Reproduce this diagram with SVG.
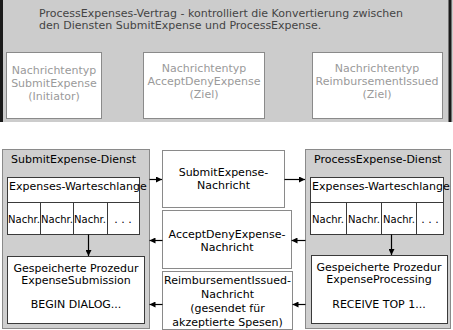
<svg xmlns="http://www.w3.org/2000/svg" width="453" height="330" viewBox="0 0 453 330">
<defs>
<style>
text{font-family:"DejaVu Sans","Liberation Sans",sans-serif;font-size:11px;fill:#000}
.t{fill:#444}
.g{fill:#9a9a9a;text-anchor:middle}
.c{text-anchor:middle}
.sm{font-size:10px}
.wb{fill:#fff;stroke:#8a8a8a;stroke-width:1}
.svc{fill:#cfcfcf;stroke:#8a8a8a;stroke-width:1}
.db{fill:#fff;stroke:#3a3a3a;stroke-width:1}
.ln{stroke:#3a3a3a;stroke-width:1;fill:none}
.ar{stroke:#000;stroke-width:1.2;fill:none;marker-end:url(#ah)}
</style>
<marker id="ah" viewBox="0 0 6 6" refX="6" refY="3" markerWidth="6" markerHeight="6" markerUnits="userSpaceOnUse" orient="auto">
<path d="M0,0 L6,3 L0,6 Z" fill="#000"/>
</marker>
</defs>
<g id="contract">
<rect x="0" y="0" width="453" height="122" fill="#cccccc"/>
<line x1="1.5" y1="0" x2="1.5" y2="122" stroke="#1a1a1a" stroke-width="3"/>
<line x1="450" y1="0" x2="450" y2="122" stroke="#1a1a1a" stroke-width="3"/>
<text class="t" x="39" y="17">ProcessExpenses-Vertrag - kontrolliert die Konvertierung zwischen</text>
<text class="t" x="39" y="29">den Diensten SubmitExpense und ProcessExpense.</text>
</g>
<g id="msgtype-submit">
<rect class="wb" x="6.5" y="52.5" width="95" height="66"/>
<text class="g" x="54" y="74">Nachrichtentyp</text>
<text class="g" x="54" y="87">SubmitExpense</text>
<text class="g" x="54" y="100">(Initiator)</text>
</g>
<g id="msgtype-acceptdeny">
<rect class="wb" x="143.5" y="52.5" width="121" height="66"/>
<text class="g" x="204" y="72">Nachrichtentyp</text>
<text class="g" x="204" y="85">AcceptDenyExpense</text>
<text class="g" x="204" y="98">(Ziel)</text>
</g>
<g id="msgtype-reimb">
<rect class="wb" x="312.5" y="52.5" width="130" height="66"/>
<text class="g" x="377" y="72">Nachrichtentyp</text>
<text class="g" x="377" y="85">ReimbursementIssued</text>
<text class="g" x="377" y="98">(Ziel)</text>
</g>
<g id="submit-service">
<rect class="svc" x="2.5" y="149.5" width="147" height="179"/>
<text x="11" y="163">SubmitExpense-Dienst</text>
<rect class="db" x="7.5" y="177.5" width="132" height="57"/>
<line class="ln" x1="7.5" y1="202.5" x2="139.5" y2="202.5"/>
<line class="ln" x1="40.5" y1="202.5" x2="40.5" y2="234.5"/>
<line class="ln" x1="73.5" y1="202.5" x2="73.5" y2="234.5"/>
<line class="ln" x1="107.5" y1="202.5" x2="107.5" y2="234.5"/>
<text x="9" y="190">Expenses-Warteschlange</text>
<text class="sm c" x="24" y="223">Nachr.</text>
<text class="sm c" x="57" y="223">Nachr.</text>
<text class="sm c" x="90" y="223">Nachr.</text>
<text class="c" x="123" y="223">. . .</text>
<rect class="db" x="7.5" y="256.5" width="137" height="67"/>
<text class="c" x="76" y="272">Gespeicherte Prozedur</text>
<text class="c" x="76" y="284">ExpenseSubmission</text>
<text class="c" x="76" y="308">BEGIN DIALOG...</text>
</g>
<g id="submit-msg">
<rect class="wb" x="162.5" y="150.5" width="122" height="57"/>
<text class="c" x="223.5" y="176">SubmitExpense-</text>
<text class="c" x="223.5" y="189">Nachricht</text>
</g>
<g id="acceptdeny-msg">
<rect class="wb" x="162.5" y="210.5" width="129" height="58"/>
<text class="c" x="227" y="238">AcceptDenyExpense-</text>
<text class="c" x="227" y="251">Nachricht</text>
</g>
<g id="reimb-msg">
<rect class="wb" x="162.5" y="271.5" width="130" height="58"/>
<text class="c" x="227.5" y="284">ReimbursementIssued-</text>
<text class="c" x="227.5" y="298">Nachricht</text>
<text class="c" x="227.5" y="312">(gesendet für</text>
<text class="c" x="227.5" y="326">akzeptierte Spesen)</text>
</g>
<g id="process-service">
<rect class="svc" x="305.5" y="149.5" width="145" height="179"/>
<text x="314" y="163">ProcessExpense-Dienst</text>
<rect class="db" x="310.5" y="177.5" width="133" height="57"/>
<line class="ln" x1="310.5" y1="202.5" x2="443.5" y2="202.5"/>
<line class="ln" x1="346.5" y1="202.5" x2="346.5" y2="234.5"/>
<line class="ln" x1="381.5" y1="202.5" x2="381.5" y2="234.5"/>
<line class="ln" x1="416.5" y1="202.5" x2="416.5" y2="234.5"/>
<text x="312" y="190">Expenses-Warteschlange</text>
<text class="sm c" x="328" y="223">Nachr.</text>
<text class="sm c" x="364" y="223">Nachr.</text>
<text class="sm c" x="399" y="223">Nachr.</text>
<text class="c" x="430" y="223">. . .</text>
<rect class="db" x="311.5" y="255.5" width="136" height="68"/>
<text class="c" x="379" y="271">Gespeicherte Prozedur</text>
<text class="c" x="379" y="283">ExpenseProcessing</text>
<text class="c" x="379" y="308">RECEIVE TOP 1...</text>
</g>
<g id="connectors">
<path class="ar" d="M88.5,234.5 V256"/>
<path class="ar" d="M391.5,234.5 V255"/>
<path class="ar" d="M149.5,179.5 H162"/>
<path class="ar" d="M284.5,179.5 H305"/>
<path class="ar" d="M305.5,240.5 H291.5"/>
<path class="ar" d="M162.5,240.5 H149.5"/>
<path class="ar" d="M305.5,304.5 H292.5"/>
<path class="ar" d="M162.5,304.5 H149.5"/>
</g>
</svg>
